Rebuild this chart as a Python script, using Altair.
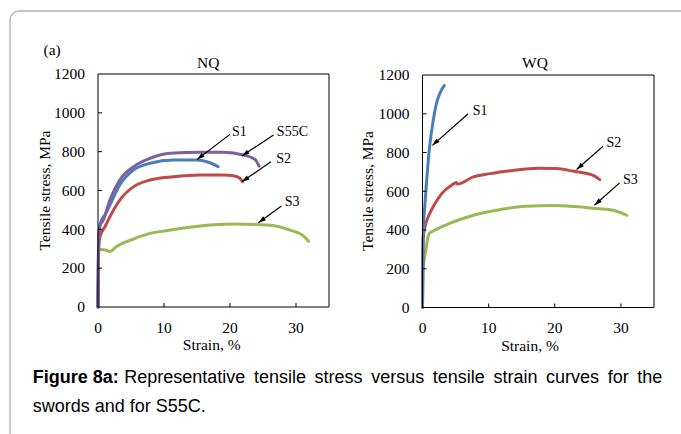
import math
import altair as alt
import pandas as pd

# ---------------- data ----------------
SERIES = ["S1", "S2", "S3", "S55C"]
COLORS = ["#4a7ebb", "#be4b48", "#98b954", "#7d60a0"]

# NQ panel: strain (%) / tensile stress (MPa)
nq_s1_strain = [0, 0.05, 0.15, 0.3, 0.55, 1.06, 1.8, 3.3, 5.4, 7.9, 11.4, 15.0, 17.0, 18.2]
nq_s1_stress = [0, 200, 380, 420, 448, 474, 525, 628, 706, 740, 757, 757, 743, 723]
nq_s2_strain = [0, 0.1, 0.3, 1.06, 1.8, 3.3, 5.4, 7.9, 11.4, 15.5, 19.0, 20.5, 21.5, 21.9]
nq_s2_stress = [0, 300, 362, 414, 465, 551, 620, 654, 671, 680, 680, 676, 663, 645]
nq_s3_strain = [0, 0.05, 0.3, 1.3, 1.8, 2.8, 5.3, 7.9, 10.4, 15.5, 20.5, 25.6, 29.1, 31.1, 31.9]
nq_s3_stress = [0, 290, 296, 292, 285, 311, 349, 379, 393, 417, 427, 422, 396, 366, 338]
nq_s55c_strain = [0, 0.05, 0.1, 0.3, 0.8, 1.8, 3.3, 5.4, 7.9, 10.9, 15.5, 19.0, 22.0, 23.8, 24.4]
nq_s55c_stress = [0, 200, 350, 420, 448, 551, 654, 723, 766, 792, 797, 797, 783, 760, 726]

# WQ panel
wq_s1_strain = [0, 0.05, 0.13, 0.38, 0.63, 0.88, 1.13, 1.63, 2.1, 2.6, 3.3]
wq_s1_stress = [0, 250, 399, 537, 657, 760, 846, 966, 1052, 1103, 1146]
wq_s2_strain = [0, 0.05, 0.13, 0.38, 1.1, 1.9, 2.9, 4.4, 5.15, 5.3, 7.7, 10.2, 12.7, 15.2, 17.7, 20.2, 22.7, 25.8, 26.8]
wq_s2_stress = [0, 250, 365, 416, 485, 537, 588, 631, 645, 637, 674, 691, 703, 713, 719, 717, 704, 682, 660]
wq_s3_strain = [0, 0.1, 0.5, 1.0, 1.6, 4.1, 7.7, 11.2, 15.5, 20.2, 25.3, 28.8, 30.9]
wq_s3_stress = [0, 193, 296, 382, 395, 434, 476, 502, 522, 527, 514, 502, 476]

# annotation arrows: label, start (strain, stress), tip (strain, stress), label anchor
nq_arrow_label = ["S1", "S55C", "S2", "S3"]
nq_arrow_from = [(20.0, 889), (26.6, 886), (26.2, 748), (27.8, 520)]
nq_arrow_to = [(15.0, 760), (21.8, 778), (21.8, 645), (24.3, 434)]
nq_label_at = [(20.3, 899), (27.1, 903), (27.0, 760), (28.3, 542)]

wq_arrow_label = ["S1", "S2", "S3"]
wq_arrow_from = [(6.9, 1000), (27.3, 832), (29.8, 643)]
wq_arrow_to = [(1.5, 837), (23.3, 712), (26.0, 528)]
wq_label_at = [(7.6, 1013), (27.8, 849), (30.3, 660)]

X_DOMAIN = [0, 35]
Y_DOMAIN = [0, 1200]
X_TICKS = [0, 10, 20, 30]
Y_TICKS = [0, 200, 400, 600, 800, 1000, 1200]

PANEL_TITLES = ["NQ", "WQ"]
X_TITLE = "Strain, %"
Y_TITLE = "Tensile stress, MPa"
CAPTION_BOLD = "Figure 8a:"
CAPTION_1 = "Representative tensile stress versus tensile strain curves for the"
CAPTION_2 = "swords and for S55C."

# ---------------- layout ----------------
W, H = 681, 434
L_XR, L_YR = [98, 329], [307, 74]
R_XR, R_YR = [422.5, 654], [307.5, 75]
SERIF = "Liberation Serif"
SANS = "Liberation Sans"
FS = 15.5
ARROW = "M0,0L-0.6,1.9L0.6,1.9Z"

color_scale = alt.Scale(domain=SERIES, range=COLORS)


def make_panel(curves, labels, froms, tos, lats, xr, yr):
    sx = (xr[1] - xr[0]) / (X_DOMAIN[1] - X_DOMAIN[0])
    sy = (yr[0] - yr[1]) / (Y_DOMAIN[1] - Y_DOMAIN[0])
    xs = alt.Scale(domain=X_DOMAIN, range=xr, nice=False, zero=False)
    ys = alt.Scale(domain=Y_DOMAIN, range=yr, nice=False, zero=False)

    def X(f):
        return alt.X(f, scale=xs, axis=None)

    def Y(f):
        return alt.Y(f, scale=ys, axis=None)

    rows = []
    for name, (a, b) in curves.items():
        for i, (u, v) in enumerate(zip(a, b)):
            rows.append(dict(series=name, strain=u, stress=v, i=i))
    df = pd.DataFrame(rows)

    lines = alt.Chart(df).mark_line(strokeWidth=3, strokeJoin="round", strokeCap="round",
                                    interpolate="monotone").encode(
        x=X("strain:Q"), y=Y("stress:Q"),
        color=alt.Color("series:N", scale=color_scale, legend=None),
        order=alt.Order("i:Q"),
    )

    arows = []
    for lab, f, t, la in zip(labels, froms, tos, lats):
        dx = (t[0] - f[0]) * sx
        dy = -(t[1] - f[1]) * sy
        ang = math.degrees(math.atan2(dx, -dy)) % 360
        arows.append(dict(label=lab, x0=f[0], y0=f[1], x1=t[0], y1=t[1], lx=la[0], ly=la[1], ang=ang))
    adf = pd.DataFrame(arows)

    rules = alt.Chart(adf).mark_rule(color="black", strokeWidth=1.2).encode(
        x=X("x0:Q"), y=Y("y0:Q"), x2="x1:Q", y2="y1:Q")
    heads = alt.Chart(adf).mark_point(shape=ARROW, filled=True, color="black", size=64,
                                      opacity=1, strokeWidth=0).encode(
        x=X("x1:Q"), y=Y("y1:Q"), angle=alt.Angle("ang:Q", scale=None))
    texts = alt.Chart(adf).mark_text(align="left", baseline="middle", font=SERIF,
                                     fontSize=14, color="black").encode(
        x=X("lx:Q"), y=Y("ly:Q"), text="label:N")

    # plot frame (four edges) and inside tick marks
    x0, x1 = X_DOMAIN
    y0, y1 = Y_DOMAIN
    frame_rows = [
        dict(x=x0, x2=x0, y=y0, y2=y1),
        dict(x=x0, x2=x1, y=y0, y2=y0),
        dict(x=x1, x2=x1, y=y0, y2=y1),
        dict(x=x0, x2=x1, y=y1, y2=y1),
    ]
    tl_y = 4 / sy
    tl_x = 4 / sx
    for v in X_TICKS[1:]:
        frame_rows.append(dict(x=v, x2=v, y=y0, y2=y0 + tl_y))
    for v in Y_TICKS[1:-1]:
        frame_rows.append(dict(x=x0, x2=x0 + tl_x, y=v, y2=v))
    frame = alt.Chart(pd.DataFrame(frame_rows)).mark_rule(color="black", strokeWidth=1).encode(
        x=X("x:Q"), y=Y("y:Q"), x2="x2:Q", y2="y2:Q")

    # tick labels
    xl = alt.Chart(pd.DataFrame({"v": X_TICKS, "y": [y0] * len(X_TICKS)})).mark_text(
        align="center", baseline="alphabetic", dy=25.5, font=SERIF, fontSize=FS, color="black"
    ).encode(x=X("v:Q"), y=Y("y:Q"), text=alt.Text("v:Q", format="d"))
    yl = alt.Chart(pd.DataFrame({"v": Y_TICKS, "x": [x0] * len(Y_TICKS)})).mark_text(
        align="right", baseline="alphabetic", dx=-13, dy=5.3, font=SERIF, fontSize=FS, color="black"
    ).encode(x=X("x:Q"), y=Y("v:Q"), text=alt.Text("v:Q", format="d"))

    return alt.layer(lines, frame, rules, heads, texts, xl, yl)


left = make_panel({"S3": (nq_s3_strain, nq_s3_stress), "S2": (nq_s2_strain, nq_s2_stress),
                   "S1": (nq_s1_strain, nq_s1_stress), "S55C": (nq_s55c_strain, nq_s55c_stress)},
                  nq_arrow_label, nq_arrow_from, nq_arrow_to, nq_label_at, L_XR, L_YR)
right = make_panel({"S3": (wq_s3_strain, wq_s3_stress), "S2": (wq_s2_strain, wq_s2_stress),
                    "S1": (wq_s1_strain, wq_s1_stress)},
                   wq_arrow_label, wq_arrow_from, wq_arrow_to, wq_label_at, R_XR, R_YR)

one = pd.DataFrame({"k": [0]})


def txt(text, x, y, font, size, weight="normal", align="left", angle=0):
    return alt.Chart(one).mark_text(text=text, font=font, fontSize=size, fontWeight=weight,
                                    align=align, baseline="alphabetic", color="black",
                                    angle=angle).encode(
        x=alt.value(x), y=alt.value(y))


border = alt.Chart(one).mark_rect(cornerRadius=9, stroke="#b0b0b0", strokeWidth=1.3,
                                  fill="white", fillOpacity=0).encode(
    x=alt.value(10), x2=alt.value(760), y=alt.value(11), y2=alt.value(520))

# the printed caption is justified: its first line has wider word gaps
JUST = " \u2009"

decor = alt.layer(
    border,
    txt("(a)", 43.5, 54.5, SERIF, FS),
    txt(PANEL_TITLES[0], 208.3, 67.5, SERIF, FS, align="center"),
    txt(PANEL_TITLES[1], 535, 67.5, SERIF, FS, align="center"),
    txt(X_TITLE, 211.7, 349.5, SERIF, FS, align="center"),
    txt(X_TITLE, 530, 351, SERIF, FS, align="center"),
    txt(Y_TITLE, 50, 190.5, SERIF, FS, align="center", angle=270),
    txt(Y_TITLE, 373, 191, SERIF, FS, align="center", angle=270),
    txt(CAPTION_BOLD, 32.7, 383.3, SANS, 18, weight="bold"),
    txt(CAPTION_1.replace(" ", JUST), 124.3, 383.3, SANS, 18),
    txt(CAPTION_2, 32.7, 411.7, SANS, 18),
)

chart = alt.layer(decor, left, right).resolve_scale(
    x="independent", y="independent"
).properties(
    width=W, height=H, padding=0, autosize=alt.AutoSizeParams(type="none"),
    background="white",
).configure_view(stroke=None)

chart.save("out.html", embed_options={"renderer": "svg", "actions": False})
